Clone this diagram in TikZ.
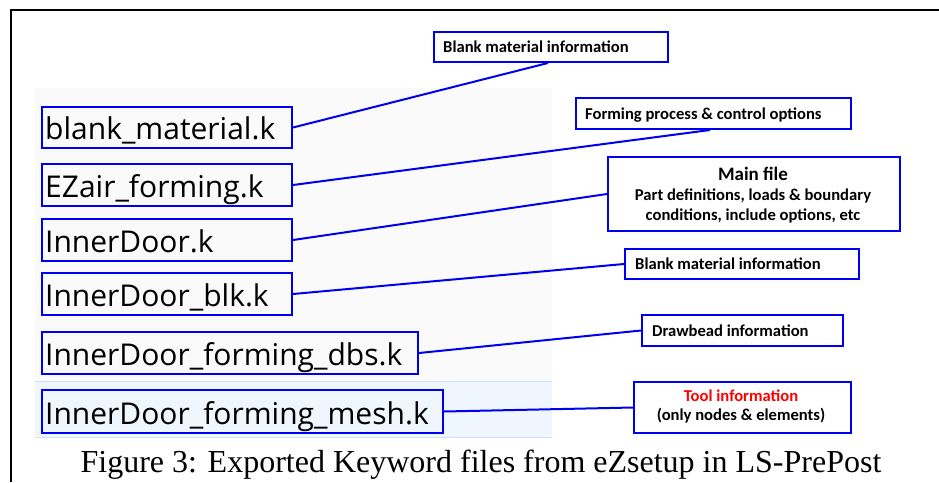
\documentclass[tikz,border=0pt]{standalone}
\usepackage{fontspec}
\setmainfont{Liberation Serif}
\newfontfamily\filefont{Open Sans}
\newfontfamily\labfont{Carlito}
\usetikzlibrary{calc}
\definecolor{boxblue}{RGB}{0,0,240}
\definecolor{panelgrey}{RGB}{250,250,251}
\definecolor{bandfill}{RGB}{240,246,254}
\definecolor{bandline}{RGB}{205,225,250}
\newcommand{\labsize}{\labfont\bfseries\fontsize{16.6}{19}\selectfont}
\tikzset{
  filebox/.style={draw=boxblue, line width=2pt, anchor=north west, inner sep=0pt},
  filetext/.style={anchor=base west, inner sep=0pt, font=\filefont\fontsize{30}{32}\selectfont},
  labbox/.style={draw=boxblue, line width=2pt, anchor=north west, inner sep=0pt, fill=white},
  labtext/.style={anchor=base west, inner sep=0pt, font=\labsize},
  labctext/.style={anchor=base, inner sep=0pt, font=\labsize},
  conn/.style={draw=boxblue, line width=2pt},
}
\begin{document}
\begin{tikzpicture}[x=1pt,y=-1pt]
\useasboundingbox (0,0) rectangle (939,482);
\fill[white] (0,0) rectangle (939,482);
% frame
\draw[line width=2pt] (11,482) -- (11,10) -- (939,10);
% panel
\fill[panelgrey] (35,88) rectangle (552,438);
\fill[bandfill] (35,381) rectangle (552,438);
\draw[bandline, line width=1.5pt] (35,381.5) -- (552,381.5);
\draw[bandline, line width=1.5pt] (35,437.5) -- (552,437.5);
% file boxes
\node[filebox, minimum width=250pt, minimum height=41pt] (f1) at (41,106) {};
\node[filebox, minimum width=250pt, minimum height=42pt] (f2) at (41,163) {};
\node[filebox, minimum width=250pt, minimum height=42pt] (f3) at (41,218) {};
\node[filebox, minimum width=250pt, minimum height=42pt] (f4) at (41,272) {};
\node[filebox, minimum width=376pt, minimum height=42pt] (f5) at (41,331) {};
\node[filebox, minimum width=401pt, minimum height=43pt] (f6) at (41,389) {};
\node[filetext] (t1) at ($(f1.south west)+(4,-9.5)$) {blank\_material.k};
\node[filetext] (t2) at ($(f2.south west)+(4,-9.5)$) {EZair\_forming.k};
\node[filetext] (t3) at ($(f3.south west)+(4,-9.5)$) {InnerDoor.k};
\node[filetext] (t4) at ($(f4.south west)+(4,-9.5)$) {InnerDoor\_blk.k};
\node[filetext] (t5) at ($(f5.south west)+(4,-9.5)$) {InnerDoor\_forming\_dbs.k};
\node[filetext] (t6) at ($(f6.south west)+(4,-9.5)$) {InnerDoor\_forming\_mesh.k};
% label boxes
\node[labbox, minimum width=234pt, minimum height=30pt] (l1) at (433,31) {};
\node[labbox, minimum width=275pt, minimum height=31pt] (l2) at (575,97) {};
\node[labbox, minimum width=292pt, minimum height=74pt] (l3) at (607,156) {};
\node[labbox, minimum width=234pt, minimum height=30pt] (l4) at (624,248) {};
\node[labbox, minimum width=201pt, minimum height=31pt] (l5) at (641,314) {};
\node[labbox, minimum width=217pt, minimum height=51pt] (l6) at (633,381) {};
\node[labtext] (lt1) at ($(l1.south west)+(10,-10.5)$) {Blank material information};
\node[labtext] (lt2) at ($(l2.south west)+(10,-10.5)$) {Forming process \& control options};
\node[labtext] (lt4) at ($(l4.south west)+(11,-10.5)$) {Blank material information};
\node[labtext] (lt5) at ($(l5.south west)+(11,-10.5)$) {Drawbead information};
\node[anchor=base, inner sep=0pt, font=\labfont\bfseries\fontsize{19}{21}\selectfont] (lt3a) at (753,180) {Main file};
\node[labctext] (lt3b) at (753,200) {Part definitions, loads \& boundary};
\node[labctext] (lt3c) at (753,220) {conditions, include options, etc};
\node[labctext, text=red] (lt6a) at (741,401.5) {Tool information};
\node[labctext] (lt6b) at (741,420.5) {(only nodes \& elements)};
% connectors
\draw[conn] (f1.east) -- ($(l1.south west)+(115,0)$);
\draw[conn] (f2.east) -- ($(l2.south west)+(135,0)$);
\draw[conn] (f3.east) -- (l3.west);
\draw[conn] (f4.east) -- (l4.west);
\draw[conn] (f5.east) -- (l5.west);
\draw[conn] (f6.east) -- (l6.west);
% caption
\node[anchor=base, inner sep=0pt, font=\fontsize{32}{36}\selectfont] (cap) at (481,472) {Figure 3: Exported Keyword files from eZsetup in LS-PrePost};
\end{tikzpicture}
\end{document}
